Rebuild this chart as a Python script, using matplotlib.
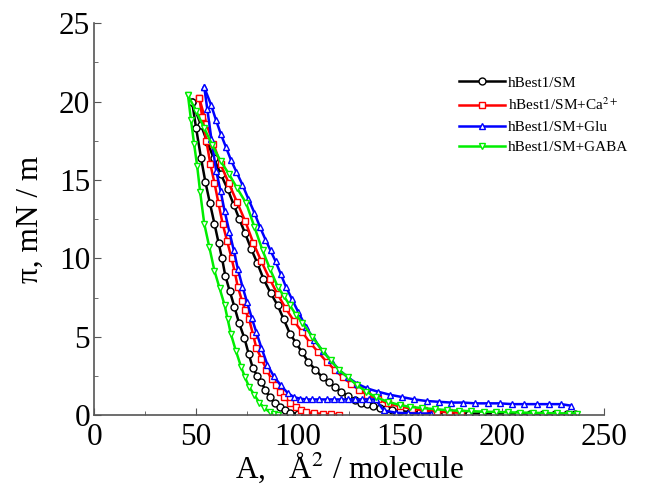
import matplotlib
matplotlib.use("Agg")
import matplotlib.pyplot as plt
from matplotlib.ticker import MultipleLocator

plt.rcParams['font.family'] = ['Liberation Serif', 'DejaVu Serif']
plt.rcParams['mathtext.fontset'] = 'stix'

# hBest1/SM
sm_comp_a = [48, 52.4, 55.5, 58.6, 62, 65.5, 68.5, 71.2, 74, 77, 80, 83, 86.5, 90, 93, 96, 99, 102, 105, 108.5,
             112, 115, 118, 121, 124.5, 128, 131, 134, 137, 140, 143, 146, 150, 155, 160, 166, 172, 178, 184, 190,
             196, 202, 208, 214, 220, 226, 232, 236]
sm_comp_p = [20.0, 18.5, 17.4, 16.4, 15.4, 14.4, 13.4, 12.5, 11.6, 10.6, 9.7, 8.7, 7.8, 7.0, 6.1, 5.2, 4.6, 4.0, 3.4,
             2.9, 2.4, 2.1, 1.8, 1.5, 1.2, 0.95, 0.8, 0.7, 0.55, 0.45, 0.38, 0.3, 0.25, 0.2, 0.18, 0.15, 0.13, 0.12,
             0.1, 0.1, 0.09, 0.08, 0.08, 0.07, 0.07, 0.06, 0.06, 0.05]
sm_exp_a = [48, 50, 52.4, 54.5, 56.8, 59, 61, 62.7, 64.3, 66.5, 68.8, 71, 73.7, 75.8, 77.8, 80, 82, 84, 86, 88.5,
            91, 93.5, 96, 100, 104, 108, 112]
sm_exp_p = [20, 18.3, 16.4, 14.9, 13.5, 12.2, 11.0, 10.0, 8.9, 7.9, 6.9, 5.9, 4.9, 3.9, 3.0, 2.5, 2.1, 1.6, 1.15,
            0.8, 0.5, 0.3, 0.13, 0.08, 0.05, 0.04, 0.03]

# hBest1/SM+Ca2+
ca_comp_a = [51.6, 55, 58.5, 62, 66, 70, 74, 78, 82, 86, 90, 94, 98, 102, 106, 110, 114, 118, 122, 126, 130, 134,
             139, 144, 150, 156, 162, 168, 174, 180]
ca_comp_p = [20.2, 18.6, 17.3, 16.0, 14.8, 13.6, 12.4, 11.0, 9.8, 8.7, 7.7, 6.8, 6.0, 5.3, 4.6, 4.0, 3.4, 2.9, 2.4,
             2.0, 1.6, 1.3, 1.0, 0.75, 0.55, 0.4, 0.3, 0.22, 0.18, 0.15]
ca_exp_a = [51.6, 53, 55, 57, 59, 61, 63, 65.2, 67.4, 69, 70.4, 72.5, 74, 76, 78, 79.5, 82, 84.5, 87, 89, 91, 93,
            96, 99, 101.5, 104, 108, 112, 116, 120]
ca_exp_p = [20.2, 19.0, 17.5, 16.0, 14.8, 13.5, 12.2, 11.1, 10.0, 9.1, 8.2, 7.3, 6.7, 6.1, 5.1, 4.3, 3.6, 2.9, 2.3,
            1.9, 1.5, 1.15, 0.8, 0.5, 0.35, 0.2, 0.12, 0.08, 0.05, 0.03]

# hBest1/SM+Glu
glu_comp_a = [54, 57.3, 59.8, 62.2, 64.6, 67, 69.8, 72.7, 75.6, 78.6, 81.3, 84, 86.5, 89, 91.5, 94, 97, 100, 104,
              108, 112, 116, 120, 124.5, 129, 134, 139, 145, 151, 157, 163, 169, 175, 181, 187, 193, 199, 205, 211,
              217, 223, 229, 234]
glu_comp_p = [20.9, 19.8, 18.8, 17.9, 17.1, 16.3, 15.5, 14.7, 13.8, 12.9, 12.0, 11.2, 10.5, 9.8, 9.0, 8.2, 7.4, 6.6,
              5.6, 4.8, 4.1, 3.5, 2.9, 2.4, 2.0, 1.7, 1.5, 1.3, 1.15, 1.0, 0.9, 0.85, 0.8, 0.8, 0.75, 0.75, 0.75,
              0.7, 0.7, 0.7, 0.7, 0.7, 0.6]
glu_exp_a = [54, 55.5, 57.5, 59.8, 62, 64, 66.3, 68.5, 70.5, 72.7, 75, 77.3, 79.5, 82, 85, 88, 91.5, 95, 98, 101,
             104, 107, 110.5, 114, 117.5, 121, 124.5, 128, 131.5, 135, 138, 142, 148, 154, 160, 165]
glu_exp_p = [20.9, 19.5, 17.6, 15.6, 14.3, 13.0, 11.7, 10.5, 9.3, 8.2, 7.2, 6.2, 5.3, 4.3, 3.2, 2.5, 1.9, 1.4, 1.15,
             1.05, 1.0, 1.0, 1.0, 1.0, 1.0, 1.0, 1.0, 1.0, 1.0, 1.0, 1.0, 0.3, 0.15, 0.12, 0.1, 0.1]

# hBest1/SM+GABA
gaba_comp_a = [46, 50, 54, 58, 62, 66, 70, 74.6, 78.6, 82.6, 86.3, 90, 93, 96, 99, 102, 107, 112, 116, 120, 124.5,
               129, 133.5, 138, 144, 150, 155, 161, 167, 173, 179, 185, 191, 197, 203, 209, 215, 221, 227, 233, 237]
gaba_comp_p = [20.4, 19.4, 18.3, 17.2, 16.2, 15.4, 14.5, 13.5, 12.0, 10.5, 9.3, 8.2, 7.6, 7.0, 6.4, 5.9, 5.0, 4.1,
               3.5, 2.9, 2.4, 1.9, 1.5, 1.15, 0.85, 0.64, 0.52, 0.45, 0.38, 0.32, 0.28, 0.25, 0.22, 0.2, 0.18, 0.16,
               0.15, 0.13, 0.12, 0.1, 0.1]
gaba_exp_a = [46, 47.5, 49, 50.5, 52, 54, 56.5, 59, 61.5, 64, 65.5, 67, 69.5, 72, 74, 76, 78.5, 81, 83.5, 86, 88, 90]
gaba_exp_p = [20.4, 18.8, 17.3, 15.9, 14.2, 12.2, 10.7, 9.2, 8.1, 7.0, 6.1, 5.2, 4.1, 3.1, 2.4, 1.8, 1.3, 0.8, 0.45,
              0.2, 0.08, 0.03]

labels = ['hBest1/SM', 'hBest1/SM+Ca$^{2+}$', 'hBest1/SM+Glu', 'hBest1/SM+GABA']
colors = ['black', '#ff0000', '#0000ff', '#00ee00']
markers = ['o', 's', '^', 'v']
curves = [(sm_comp_a, sm_comp_p, sm_exp_a, sm_exp_p),
          (ca_comp_a, ca_comp_p, ca_exp_a, ca_exp_p),
          (glu_comp_a, glu_comp_p, glu_exp_a, glu_exp_p),
          (gaba_comp_a, gaba_comp_p, gaba_exp_a, gaba_exp_p)]

fig = plt.figure(figsize=(6.68, 4.93), dpi=100)
ax = fig.add_axes([0.141, 0.158, 0.763, 0.795])

for (ca, cp, ea, ep), lab, c, m in zip(curves, labels, colors, markers):
    style = dict(color=c, marker=m, markersize=5, markerfacecolor='white', markeredgecolor=c,
                 markeredgewidth=1.0, linewidth=1.8)
    ax.plot(ca, cp, label=lab, **style)
    ax.plot(ea, ep, **style)

ax.set_xlim(0, 250)
ax.set_ylim(0, 25)
ax.xaxis.set_major_locator(MultipleLocator(50))
ax.xaxis.set_minor_locator(MultipleLocator(25))
ax.yaxis.set_major_locator(MultipleLocator(5))
ax.yaxis.set_minor_locator(MultipleLocator(2.5))
ax.tick_params(which='both', direction='in', colors='#555555', labelcolor='black', labelsize=22.5)
ax.tick_params(which='major', length=5)
ax.tick_params(which='minor', length=3)
ax.tick_params(axis='x', which='major', pad=6)
ax.tick_params(axis='y', which='major', pad=3)
for s in ['top', 'right']:
    ax.spines[s].set_visible(False)
for s in ['left', 'bottom']:
    ax.spines[s].set_color('#555555')
    ax.spines[s].set_linewidth(1.2)

ax.set_xlabel('A,   Å$^2$ / molecule', fontsize=22.5, labelpad=-2)
ax.set_ylabel('π, mN / m', fontsize=22.5, labelpad=10)

ax.legend(loc='upper right', bbox_to_anchor=(1.075, 0.9), frameon=False, fontsize=11,
          handlelength=3.0, handletextpad=0.2, labelspacing=0.45, markerscale=1.0)

fig.savefig('out.png', dpi=100)
